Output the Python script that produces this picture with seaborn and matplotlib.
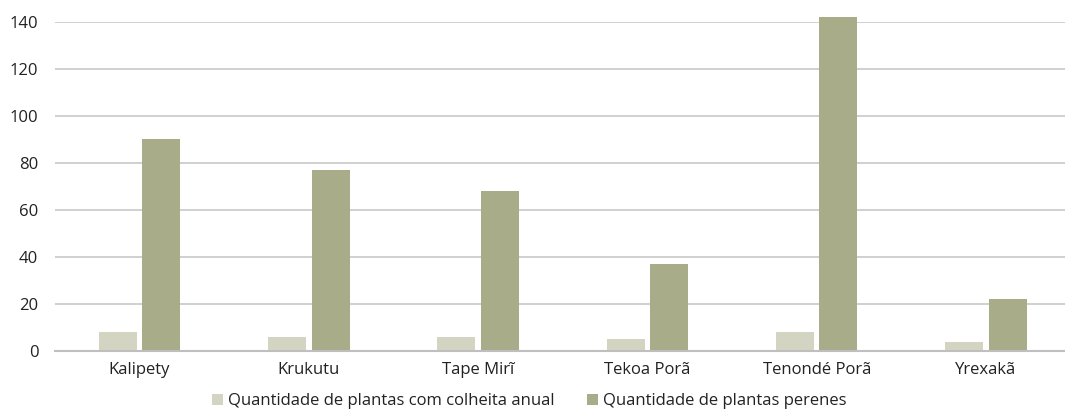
import matplotlib
matplotlib.use("Agg")
import matplotlib.pyplot as plt
import seaborn as sns
import pandas as pd

categories = ["Kalipety", "Krukutu", "Tape Mirĩ", "Tekoa Porã", "Tenondé Porã", "Yrexakã"]
annual = [8, 6, 6, 5, 8, 4]
perennial = [90, 77, 68, 37, 142, 22]
series_names = ["Quantidade de plantas com colheita anual", "Quantidade de plantas perenes"]
yticks = [0, 20, 40, 60, 80, 100, 120, 140]

df = pd.DataFrame({
    "cat": categories * 2,
    "val": annual + perennial,
    "serie": [series_names[0]] * len(categories) + [series_names[1]] * len(categories),
})

sns.set_theme(style="white")
plt.rcParams["font.family"] = ["Open Sans", "DejaVu Sans"]

fig = plt.figure(figsize=(10.65, 4.11), dpi=100)
ax = fig.add_axes([0.0516, 0.146, 0.9537, 0.8005])

sns.barplot(data=df, x="cat", y="val", hue="serie", order=categories,
            hue_order=series_names, palette=["#D3D4C2", "#A8AC88"],
            width=0.514, gap=0.126, saturation=1, linewidth=0, ax=ax, legend=True)

for p in ax.patches:
    p.set_clip_on(False)

ax.set_ylim(0, 140)
ax.set_yticks(yticks)
ax.set_yticklabels([str(t) for t in yticks])
ax.set_xlim(-0.5, len(categories) - 0.5)
ax.yaxis.grid(True, color="#C8C8C8", linewidth=1.2)
ax.set_axisbelow(True)
for s in ["top", "right", "left"]:
    ax.spines[s].set_visible(False)
ax.spines["bottom"].set_color("#BFBFBF")
ax.spines["bottom"].set_linewidth(1.5)
ax.set_xlabel("")
ax.set_ylabel("")
ax.tick_params(axis="both", length=0, labelsize=12, colors="#222222", pad=8)
ax.tick_params(axis="y", pad=12)

ax.legend(loc="center", bbox_to_anchor=(0.467, -0.153), ncol=2, frameon=False,
          fontsize=12, handlelength=0.7, handleheight=0.7, handletextpad=0.3,
          columnspacing=1.9, labelcolor="#222222", borderpad=0)

fig.savefig("out.png", dpi=100)
